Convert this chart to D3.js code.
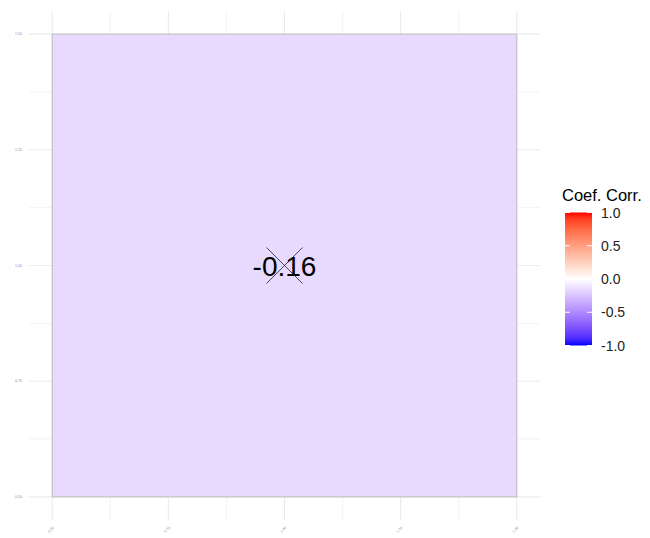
<!DOCTYPE html>
<html>
<head>
<meta charset="utf-8">
<script src="https://cdn.jsdelivr.net/npm/d3@7"></script>
<style>
  body { margin: 0; background: #fff; }
  text { font-family: "Liberation Sans", Arial, sans-serif; }
</style>
</head>
<body>
<div id="chart"></div>
<script>
// data
var cells = [{row: 1, col: 1, value: -0.16, signif: false}];
var xTicks = [0.50, 0.75, 1.00, 1.25, 1.50];
var yTicks = [0.50, 0.75, 1.00, 1.25, 1.50];
var minorTicks = [0.625, 0.875, 1.125, 1.375];
var legendBreaks = [1.0, 0.5, 0.0, -0.5, -1.0];
var legendTitle = "Coef. Corr.";

const W = 650, H = 538;
const panel = {left: 29, right: 540, top: 11, bottom: 520};

var svg = d3.select("#chart").append("svg")
    .attr("width", W)
    .attr("height", H);

// scales with ggplot style 5% expansion
var x = d3.scaleLinear().domain([0.45, 1.55]).range([panel.left, panel.right]);
var y = d3.scaleLinear().domain([0.45, 1.55]).range([panel.bottom, panel.top]);

var fill = d3.scaleLinear()
    .domain([-1, 0, 1])
    .range(["#0000ff", "#ffffff", "#ff0000"])
    .interpolate(d3.interpolateLab);

// grid
var grid = svg.append("g").attr("stroke", "#ebebeb").attr("fill", "none");
grid.selectAll(".hmin").data(minorTicks).join("line")
    .attr("class", "hmin")
    .attr("x1", panel.left).attr("x2", panel.right)
    .attr("y1", d => y(d)).attr("y2", d => y(d))
    .attr("stroke-width", 0.6);
grid.selectAll(".vmin").data(minorTicks).join("line")
    .attr("class", "vmin")
    .attr("y1", panel.top).attr("y2", panel.bottom)
    .attr("x1", d => x(d)).attr("x2", d => x(d))
    .attr("stroke-width", 0.6);
grid.selectAll(".hmaj").data(yTicks).join("line")
    .attr("class", "hmaj")
    .attr("x1", panel.left).attr("x2", panel.right)
    .attr("y1", d => y(d)).attr("y2", d => y(d))
    .attr("stroke-width", 1.1);
grid.selectAll(".vmaj").data(xTicks).join("line")
    .attr("class", "vmaj")
    .attr("y1", panel.top).attr("y2", panel.bottom)
    .attr("x1", d => x(d)).attr("x2", d => x(d))
    .attr("stroke-width", 1.1);

// tiny tick labels
svg.append("g").selectAll("text").data(yTicks).join("text")
    .attr("x", 22).attr("y", d => y(d))
    .attr("dy", "0.35em")
    .attr("text-anchor", "end")
    .attr("font-size", 3.6)
    .attr("fill", "#8a8a9a")
    .text(d => d.toFixed(2));

svg.append("g").selectAll("text").data(xTicks).join("text")
    .attr("transform", d => "translate(" + (x(d) + 2) + ",528) rotate(-45)")
    .attr("text-anchor", "end")
    .attr("font-size", 3.6)
    .attr("fill", "#8a8a9a")
    .text(d => d.toFixed(2));

// tiles
svg.append("g").selectAll("rect").data(cells).join("rect")
    .attr("x", d => x(d.col - 0.5))
    .attr("y", d => y(d.row + 0.5))
    .attr("width", d => x(d.col + 0.5) - x(d.col - 0.5))
    .attr("height", d => y(d.row - 0.5) - y(d.row + 0.5))
    .attr("fill", d => fill(d.value))
    .attr("stroke", "#bdbdbd")
    .attr("stroke-width", 1);

// value labels
svg.append("g").selectAll("text").data(cells).join("text")
    .attr("x", d => x(d.col))
    .attr("y", d => y(d.row))
    .attr("dy", "0.36em")
    .attr("text-anchor", "middle")
    .attr("font-size", 28)
    .attr("fill", "#000")
    .text(d => d.value.toFixed(2));

// cross for insignificant
var crossSize = 18;
var crosses = svg.append("g").attr("stroke", "#222").attr("stroke-width", 0.8)
    .selectAll("g").data(cells.filter(d => !d.signif)).join("g");
crosses.append("line")
    .attr("x1", d => x(d.col) - crossSize).attr("y1", d => y(d.row) - crossSize)
    .attr("x2", d => x(d.col) + crossSize).attr("y2", d => y(d.row) + crossSize);
crosses.append("line")
    .attr("x1", d => x(d.col) - crossSize).attr("y1", d => y(d.row) + crossSize)
    .attr("x2", d => x(d.col) + crossSize).attr("y2", d => y(d.row) - crossSize);

// legend
var lg = {left: 565, width: 27, top: 212.5, bottom: 345.5};
var ly = d3.scaleLinear().domain([-1, 1]).range([lg.bottom, lg.top]);

var defs = svg.append("defs");
var grad = defs.append("linearGradient")
    .attr("id", "corrGrad")
    .attr("x1", "0%").attr("y1", "100%")
    .attr("x2", "0%").attr("y2", "0%");
grad.selectAll("stop").data(d3.range(0, 21).map(i => -1 + i * 0.1)).join("stop")
    .attr("offset", d => ((d + 1) / 2 * 100) + "%")
    .attr("stop-color", d => fill(d));

svg.append("text")
    .attr("x", 562).attr("y", 201)
    .attr("font-size", 16.5)
    .attr("fill", "#000")
    .text(legendTitle);

svg.append("rect")
    .attr("x", lg.left).attr("y", lg.top)
    .attr("width", lg.width).attr("height", lg.bottom - lg.top)
    .attr("fill", "url(#corrGrad)");

var lt = svg.append("g").attr("stroke", "#fff").attr("stroke-width", 1);
lt.selectAll(".tl").data(legendBreaks).join("line")
    .attr("class", "tl")
    .attr("x1", lg.left).attr("x2", lg.left + 5)
    .attr("y1", d => ly(d)).attr("y2", d => ly(d));
lt.selectAll(".tr").data(legendBreaks).join("line")
    .attr("class", "tr")
    .attr("x1", lg.left + lg.width - 5).attr("x2", lg.left + lg.width)
    .attr("y1", d => ly(d)).attr("y2", d => ly(d));

svg.append("g").selectAll("text").data(legendBreaks).join("text")
    .attr("x", 601).attr("y", d => ly(d))
    .attr("dy", "0.36em")
    .attr("font-size", 14)
    .attr("fill", "#222")
    .text(d => d.toFixed(1));
</script>
</body>
</html>
